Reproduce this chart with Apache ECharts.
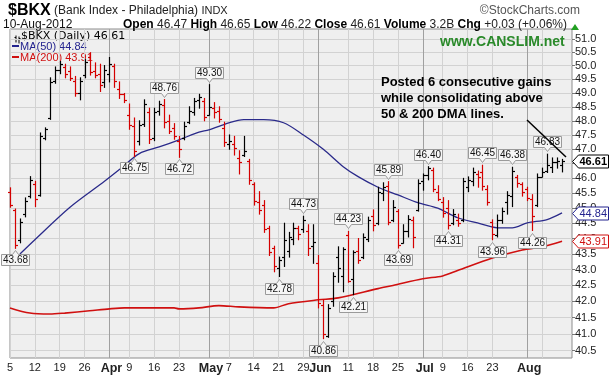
<!DOCTYPE html>
<html>
<head>
<meta charset="utf-8">
<script src="https://cdn.jsdelivr.net/npm/echarts@6/dist/echarts.min.js"></script>
<style>
  html, body { margin: 0; padding: 0; background: #fff; }
  #chart { width: 611px; height: 377px; }
</style>
</head>
<body>
<div id="chart"></div>
<script>
// trading days, 5 Mar 2012 - 10 Aug 2012
const tradingDays = [
  'Mar 5','Mar 6','Mar 7','Mar 8','Mar 9','Mar 12','Mar 13','Mar 14','Mar 15','Mar 16',
  'Mar 19','Mar 20','Mar 21','Mar 22','Mar 23','Mar 26','Mar 27','Mar 28','Mar 29','Mar 30',
  'Apr 2','Apr 3','Apr 4','Apr 5','Apr 9','Apr 10','Apr 11','Apr 12','Apr 13','Apr 16',
  'Apr 17','Apr 18','Apr 19','Apr 20','Apr 23','Apr 24','Apr 25','Apr 26','Apr 27','Apr 30',
  'May 1','May 2','May 3','May 4','May 7','May 8','May 9','May 10','May 11','May 14',
  'May 15','May 16','May 17','May 18','May 21','May 22','May 23','May 24','May 25','May 29',
  'May 30','May 31','Jun 1','Jun 4','Jun 5','Jun 6','Jun 7','Jun 8','Jun 11','Jun 12',
  'Jun 13','Jun 14','Jun 15','Jun 18','Jun 19','Jun 20','Jun 21','Jun 22','Jun 25','Jun 26',
  'Jun 27','Jun 28','Jun 29','Jul 2','Jul 3','Jul 5','Jul 6','Jul 9','Jul 10','Jul 11',
  'Jul 12','Jul 13','Jul 16','Jul 17','Jul 18','Jul 19','Jul 20','Jul 23','Jul 24','Jul 25',
  'Jul 26','Jul 27','Jul 30','Jul 31','Aug 1','Aug 2','Aug 3','Aug 6','Aug 7','Aug 8',
  'Aug 9','Aug 10'
];
const padDays = ['', ''];

const opens = [
  45.55,44.95,43.96,44.80,45.40,45.80,45.45,47.40,48.10,49.45,
  49.85,49.95,49.80,49.45,49.00,49.65,50.30,49.80,49.70,49.40,
  49.70,50.00,49.15,48.95,48.20,47.80,47.30,47.90,48.30,47.40,
  48.35,48.55,48.00,47.75,47.30,47.40,47.95,48.30,48.75,48.70,
  48.20,48.45,48.35,47.75,47.20,47.20,46.70,46.80,46.60,45.80,
  45.20,45.10,44.35,43.70,43.05,43.40,43.60,44.00,44.35,44.30,
  44.25,43.75,43.20,41.90,40.95,42.00,43.40,42.80,44.10,42.70,
  43.60,43.40,44.00,44.75,44.50,45.50,45.75,44.60,44.90,43.85,
  44.25,44.60,44.95,45.90,46.10,46.30,45.55,45.20,45.00,44.50,
  44.60,44.60,45.70,45.90,46.15,46.20,45.65,44.55,44.10,44.60,
  45.20,45.40,46.05,45.80,45.65,45.30,45.10,46.05,46.25,46.40,
  46.55,46.47
];
const highs = [
  45.68,44.97,44.64,45.34,46.06,45.90,47.57,47.75,49.55,49.95,
  50.15,50.05,49.95,49.60,49.55,50.22,50.48,50.10,50.05,50.00,
  50.30,50.05,49.40,48.98,48.60,48.10,48.00,48.75,48.45,48.45,
  48.70,48.76,48.20,47.90,47.45,47.95,48.50,48.80,48.95,48.80,
  49.30,48.65,48.50,47.95,47.50,47.45,46.95,47.45,46.65,45.85,
  45.55,45.25,44.40,43.75,43.40,44.50,44.20,44.50,44.40,44.73,
  44.45,44.45,43.45,42.05,41.90,42.90,43.73,43.70,44.23,43.60,
  44.00,44.15,44.70,44.94,45.70,45.85,45.89,45.25,44.95,44.45,
  44.75,44.70,45.95,46.15,46.40,46.35,45.75,45.35,45.25,44.95,
  44.80,46.00,46.05,46.35,46.25,46.45,45.75,44.61,44.77,45.00,
  45.55,46.38,46.10,45.85,45.70,45.45,46.15,46.35,46.83,46.70,
  46.70,46.65
];
const lows = [
  45.03,43.68,43.86,44.71,45.34,45.05,45.40,47.33,48.05,49.35,
  49.70,49.55,49.45,48.88,48.75,49.55,49.65,49.55,49.05,49.20,
  49.40,49.20,48.80,48.65,47.70,46.75,47.15,47.80,47.20,47.30,
  48.20,47.75,47.55,47.35,46.72,47.33,47.90,48.20,48.45,48.00,
  48.20,48.10,47.95,47.10,47.00,46.80,46.15,46.75,45.80,45.10,
  44.80,44.20,43.45,42.93,42.78,43.10,43.40,43.80,43.96,44.20,
  43.45,43.20,41.80,40.86,40.90,41.85,42.60,42.30,42.60,42.21,
  43.20,43.35,43.90,44.25,44.45,45.25,44.45,44.55,43.69,43.85,
  44.05,43.70,44.90,45.60,45.95,45.55,45.25,44.70,44.31,44.45,
  44.40,44.55,45.55,45.75,45.70,45.60,45.10,43.96,44.05,44.50,
  44.80,45.05,45.70,45.40,45.25,44.26,45.05,46.05,46.20,46.20,
  46.35,46.22
];
const closes = [
  45.10,43.80,44.55,45.25,45.95,45.30,47.45,47.70,49.40,49.85,
  50.05,49.70,49.55,49.00,49.45,50.15,49.75,49.65,49.30,49.85,
  50.05,49.45,48.95,48.75,47.85,46.95,47.85,48.60,47.35,48.30,
  48.60,47.95,47.65,47.45,47.00,47.80,48.35,48.70,48.85,48.15,
  48.50,48.30,48.05,47.25,47.30,47.05,46.55,46.95,45.95,45.25,
  44.95,44.30,43.55,43.10,43.30,43.95,44.05,44.35,44.15,44.60,
  43.70,43.90,41.95,41.00,41.80,42.80,43.05,43.65,42.65,43.55,
  43.30,44.05,44.60,44.45,45.55,45.70,44.55,45.05,43.80,44.25,
  44.65,44.05,45.85,46.10,46.35,45.65,45.30,44.85,44.45,44.80,
  44.50,45.90,45.95,46.20,46.05,45.75,45.20,44.15,44.60,44.90,
  45.45,46.25,45.85,45.55,45.35,44.75,46.05,46.20,46.45,46.55,
  46.58,46.61
];

// moving averages: [day index, value]
const ma50Points = [
  [2,43.50],[5,43.96],[12,45.02],[19,45.90],[22,46.30],[26,46.85],[30,47.08],
  [34,47.33],[38,47.60],[40,47.68],[44,47.93],[47,48.04],[51,48.04],[55,47.93],
  [59,47.50],[63,47.00],[67,46.40],[70,46.06],[74,45.70],[78,45.44],[82,45.18],
  [86,45.00],[90,44.68],[94,44.51],[98,44.35],[101,44.35],[104,44.51],[108,44.62],
  [111,44.84]
];
const ma200Points = [
  [0,41.80],[4,41.64],[8,41.61],[11,41.64],[16,41.71],[20,41.77],[23,41.80],
  [33,41.80],[34,41.77],[38,41.80],[42,41.87],[46,41.83],[53,41.80],[56,41.93],
  [62,42.05],[66,42.11],[74,42.40],[77,42.50],[83,42.71],[87,42.80],[90,42.97],
  [97,43.37],[103,43.63],[107,43.73],[111,43.91]
];

// callout labels on swing highs / lows
const calloutIdx = [1,25,31,34,40,54,59,63,68,69,76,78,84,88,95,97,101,105,108];
const calloutVal = [43.68,46.75,48.76,46.72,49.30,42.78,44.73,40.86,44.23,42.21,
                    45.89,43.69,46.40,44.31,46.45,43.96,46.38,44.26,46.83];
const calloutUp  = [0,0,1,0,1,0,1,0,1,0,1,0,1,0,1,0,1,0,1];

// x tick labels
const xTickIdx  = [0,5,10,15,20,24,29,34,40,44,49,54,59,62,68,73,78,83,87,92,97,104,107];
const xTickText = ['5','12','19','26','Apr','9','16','23','May','7','14','21','29',
                   'Jun','11','18','25','Jul','9','16','23','Aug','6'];
const monthIdx  = [20,40,62,83,104];
const yTicks = [40.5,41.0,41.5,42.0,42.5,43.0,43.5,44.0,44.5,45.0,45.5,
                46.0,46.5,47.0,47.5,48.0,48.5,49.0,49.5,50.0,50.5,51.0];

// last value tags on the right axis
const tagValues = [46.61, 44.84, 43.91];
const tagColors = ['#000000', '#23238e', '#d01010'];

const UP = '#000000';
const DOWN = '#d40000';
const FONT = '"Liberation Sans", Arial, sans-serif';

const categories = tradingDays.concat(padDays);
const ohlcData = [];
for (let i = 0; i < tradingDays.length; i++) {
  const prev = i > 0 ? closes[i - 1] : opens[i];
  ohlcData.push([i, opens[i], highs[i], lows[i], closes[i], closes[i] < prev ? 1 : 0]);
}
const calloutData = calloutIdx.map((d, k) => [d, calloutVal[k], calloutUp[k]]);
const tagData = tagValues.map((v, k) => [tradingDays.length - 1, v, k]);

const tickMap = {};
xTickIdx.forEach((d, k) => { tickMap[d] = xTickText[k]; });
const monthSet = new Set(monthIdx);

const chart = echarts.init(document.getElementById('chart'));

const option = {
  animation: false,
  backgroundColor: '#ffffff',
  grid: {
    left: 10, top: 29, right: 39, bottom: 19,
    show: true,
    backgroundColor: '#efefef',
    borderColor: '#8c8c8c',
    borderWidth: 1
  },
  xAxis: [
    {
      type: 'category',
      data: categories,
      boundaryGap: false,
      axisLine: {show: false},
      axisTick: {show: false},
      axisLabel: {
        interval: (idx) => tickMap[idx] !== undefined,
        formatter: (val, idx) => {
          const t = tickMap[idx];
          if (t === undefined) return '';
          return monthSet.has(idx) ? '{m|' + t + '}' : t;
        },
        margin: 4,
        color: '#222',
        fontSize: 11,
        fontFamily: FONT,
        rich: {
          m: {fontWeight: 'bold', fontSize: 12.5, color: '#222', fontFamily: FONT, padding: [0, 0, 0, 4]}
        }
      },
      splitLine: {
        show: true,
        interval: (idx) => tickMap[idx] !== undefined && !monthSet.has(idx),
        lineStyle: {color: '#d2d2d2', width: 1}
      }
    },
    {
      type: 'category',
      data: categories,
      boundaryGap: false,
      position: 'top',
      axisLine: {show: false},
      axisTick: {show: false},
      axisLabel: {show: false},
      splitLine: {
        show: true,
        interval: (idx) => monthSet.has(idx),
        lineStyle: {color: '#a0a0a0', width: 1}
      }
    }
  ],
  yAxis: {
    type: 'log',
    logBase: 10,
    position: 'right',
    min: 40.28,
    max: 51.37,
    axisLine: {show: false},
    axisTick: {
      show: true, length: 3, customValues: yTicks,
      lineStyle: {color: '#777'}
    },
    axisLabel: {
      customValues: yTicks,
      formatter: (v) => v.toFixed(1),
      margin: 3,
      color: '#222',
      fontSize: 11,
      fontFamily: FONT
    },
    splitLine: {show: true, lineStyle: {color: '#d2d2d2', width: 1}}
  },
  series: [
    {
      name: 'MA(200)',
      type: 'line',
      data: ma200Points,
      symbol: 'none',
      smooth: 0.3,
      lineStyle: {color: '#d01010', width: 1.6},
      z: 3
    },
    {
      name: 'MA(50)',
      type: 'line',
      data: ma50Points,
      symbol: 'none',
      smooth: 0.3,
      lineStyle: {color: '#2a2a8a', width: 1.3},
      z: 3
    },
    {
      name: '$BKX',
      type: 'custom',
      data: ohlcData,
      encode: {x: 0, y: [1, 2, 3, 4]},
      z: 4,
      renderItem: function (params, api) {
        const i = api.value(0);
        const o = api.coord([i, api.value(1)]);
        const h = api.coord([i, api.value(2)]);
        const l = api.coord([i, api.value(3)]);
        const c = api.coord([i, api.value(4)]);
        const x = Math.round(o[0]) + 0.5;
        const color = api.value(5) ? DOWN : UP;
        const st = {stroke: color, lineWidth: 1.2};
        return {
          type: 'group',
          children: [
            {type: 'line', shape: {x1: x, y1: h[1] - 0.5, x2: x, y2: l[1] + 0.5}, style: st},
            {type: 'line', shape: {x1: x - 2.5, y1: Math.round(o[1]) + 0.5, x2: x, y2: Math.round(o[1]) + 0.5}, style: st},
            {type: 'line', shape: {x1: x, y1: Math.round(c[1]) + 0.5, x2: x + 2.5, y2: Math.round(c[1]) + 0.5}, style: st}
          ]
        };
      }
    },
    {
      name: 'callouts',
      type: 'custom',
      data: calloutData,
      encode: {x: 0, y: 1},
      clip: false,
      z: 6,
      renderItem: function (params, api) {
        const p = api.coord([api.value(0), api.value(1)]);
        const up = api.value(2) === 1;
        const txt = api.value(1).toFixed(2);
        const w = 28, hgt = 11;
        const px = Math.round(p[0]) + 0.5;
        const x0 = px - w / 2, x1 = px + w / 2;
        let pts, ty;
        if (up) {
          const tip = Math.round(p[1]) - 2.5;
          const yb = tip - 4, yt = yb - hgt;
          pts = [[x0, yt], [x1, yt], [x1, yb], [px + 3, yb], [px, tip], [px - 3, yb], [x0, yb]];
          ty = (yt + yb) / 2;
        } else {
          const tip = Math.round(p[1]) + 2.5;
          const yt = tip + 4, yb = yt + hgt;
          pts = [[x0, yt], [px - 3, yt], [px, tip], [px + 3, yt], [x1, yt], [x1, yb], [x0, yb]];
          ty = (yt + yb) / 2;
        }
        return {
          type: 'group',
          children: [
            {type: 'polygon', shape: {points: pts}, style: {fill: '#f6f6f6', stroke: '#9a9a9a', lineWidth: 1}},
            {type: 'text', style: {
              x: px, y: ty + 0.5, text: txt, align: 'center', verticalAlign: 'middle',
              fill: '#111', font: '10px ' + FONT
            }}
          ]
        };
      }
    },
    {
      name: 'tags',
      type: 'custom',
      data: tagData,
      encode: {x: 0, y: 1},
      clip: false,
      z: 7,
      renderItem: function (params, api) {
        const cs = params.coordSys;
        const k = api.value(2);
        const y = Math.round(api.coord([api.value(0), api.value(1)])[1]) + 0.5;
        const x0 = cs.x + cs.width + 0.5;
        const w = 36, hh = 6.5;
        const color = tagColors[k];
        return {
          type: 'group',
          children: [
            {type: 'polygon', shape: {points: [[x0, y], [x0 + 6, y - hh], [x0 + w, y - hh], [x0 + w, y + hh], [x0 + 6, y + hh]]},
              style: {fill: '#ffffff', stroke: color, lineWidth: 1}},
            {type: 'text', style: {
              x: x0 + 7, y: y + 0.5, text: api.value(1).toFixed(2), verticalAlign: 'middle',
              fill: color, font: (k === 0 ? 'bold ' : '') + '11px ' + FONT
            }}
          ]
        };
      }
    }
  ],
  graphic: [
    // header
    {type: 'text', left: 8, top: 3, style: {
      text: '{t|$BKX} {s|(Bank Index - Philadelphia)} {x|INDX}',
      rich: {
        t: {font: 'bold 16px ' + FONT, fill: '#000'},
        s: {font: '12px ' + FONT, fill: '#222'},
        x: {font: '11px ' + FONT, fill: '#222'}
      }
    }},
    {type: 'text', right: 31, top: 5, style: {
      text: '\u00a9StockCharts.com', fill: '#555', font: '12px ' + FONT
    }},
    {type: 'text', left: 3, top: 19, style: {
      text: '10-Aug-2012', fill: '#111', font: '12px ' + FONT
    }},
    {type: 'text', right: 44, top: 19, style: {
      text: '{b|Open} 46.47 {b|High} 46.65 {b|Low} 46.22 {b|Close} 46.61 {b|Volume} 3.2B {b|Chg} +0.03 (+0.06%)',
      fill: '#222', font: '12px ' + FONT,
      rich: {b: {font: 'bold 12px ' + FONT, fill: '#000'}}
    }},
    {type: 'polygon', shape: {points: [[571, 30], [579, 30], [575, 24]]}, style: {fill: '#22a022'}},
    // legend
    {type: 'group', left: 12, top: 33, children: [
      {type: 'line', shape: {x1: 1.5, y1: 0, x2: 1.5, y2: 7}, style: {stroke: '#000', lineWidth: 1}},
      {type: 'line', shape: {x1: 0, y1: 2, x2: 1.5, y2: 2}, style: {stroke: '#000', lineWidth: 1}},
      {type: 'line', shape: {x1: 4.5, y1: 1, x2: 4.5, y2: 8}, style: {stroke: '#000', lineWidth: 1}},
      {type: 'line', shape: {x1: 4.5, y1: 3, x2: 6, y2: 3}, style: {stroke: '#000', lineWidth: 1}}
    ]},
    {type: 'text', left: 21, top: 31, style: {
      text: '$BKX (Daily) 46.61', fill: '#000', font: '11px "DejaVu Sans", sans-serif'
    }},
    {type: 'rect', shape: {x: 12, y: 45, width: 7, height: 2}, style: {fill: '#23238e'}},
    {type: 'text', left: 20, top: 41, style: {
      text: 'MA(50) 44.84', fill: '#23238e', font: '11px ' + FONT
    }},
    {type: 'rect', shape: {x: 12, y: 56, width: 7, height: 2}, style: {fill: '#d01010'}},
    {type: 'text', left: 20, top: 52, style: {
      text: 'MA(200) 43.91', fill: '#d01010', font: '11px ' + FONT
    }},
    // watermark + note
    {type: 'text', left: 440, top: 35, z: 10, style: {
      text: 'www.CANSLIM.net', fill: '#2a8a2a', font: 'bold 14px ' + FONT
    }},
    {type: 'text', left: 381, top: 74, z: 10, style: {
      text: 'Posted 6 consecutive gains\nwhile consolidating above\n50 & 200 DMA lines.',
      fill: '#000', lineHeight: 16, font: 'bold 13px ' + FONT
    }},
    {type: 'line', z: 10, shape: {x1: 527, y1: 120, x2: 566, y2: 157}, style: {stroke: '#000', lineWidth: 1.5}}
  ]
};

chart.setOption(option);
</script>
</body>
</html>
